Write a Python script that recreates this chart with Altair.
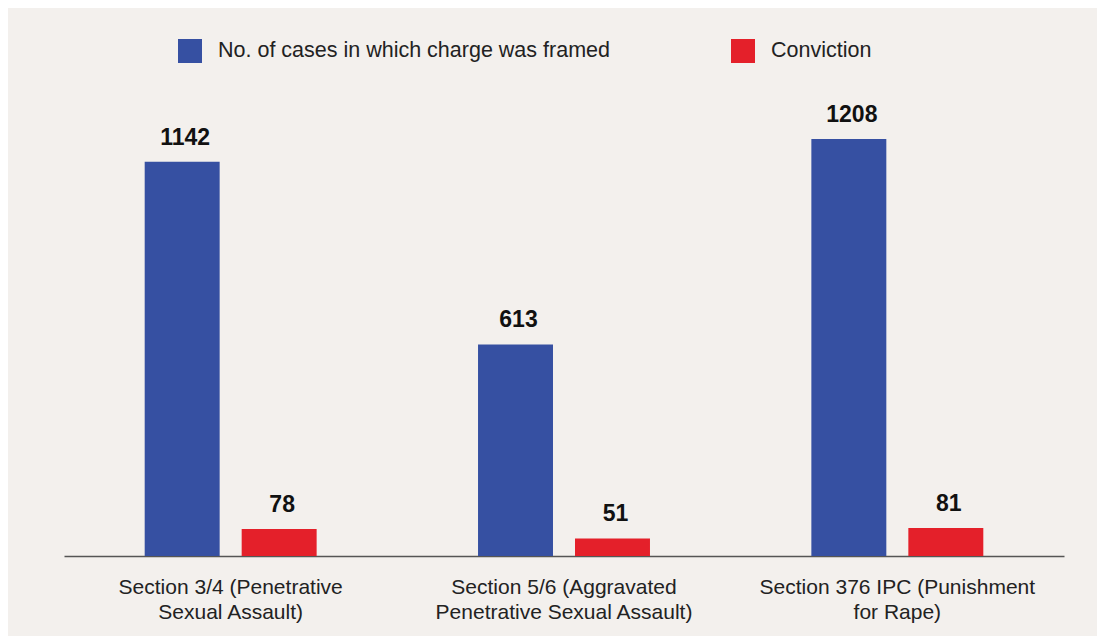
import altair as alt
import pandas as pd

categories = [
    "Section 3/4 (Penetrative|Sexual Assault)",
    "Section 5/6 (Aggravated|Penetrative Sexual Assault)",
    "Section 376 IPC (Punishment|for Rape)",
]
series = ["No. of cases in which charge was framed", "Conviction"]
framed = [1142, 613, 1208]
conviction = [78, 51, 81]
colors = ["#3650a2", "#e4202a"]

rows = []
for c, f, v in zip(categories, framed, conviction):
    rows.append({"section": c, "series": series[0], "value": f})
    rows.append({"section": c, "series": series[1], "value": v})
df = pd.DataFrame(rows)

FONT = "Liberation Sans"

x = alt.X(
    "section:N",
    sort=categories,
    scale=alt.Scale(paddingInner=0, paddingOuter=0),
    axis=alt.Axis(
        title=None,
        labelExpr="split(datum.label, '|')",
        labelAngle=0,
        labelLimit=0,
        ticks=False,
        domainColor="#555555",
        domainWidth=1.5,
        labelFontSize=21,
        labelColor="#222222",
        labelPadding=20,
        labelLineHeight=25,
        labelFont=FONT,
        labelBaseline="top",
    ),
)
xoff = alt.XOffset(
    "series:N",
    sort=series,
    scale=alt.Scale(paddingInner=0.227, paddingOuter=0.832),
)
y = alt.Y("value:Q", scale=alt.Scale(domain=[0, 1350]), axis=None)

bars = alt.Chart(df).mark_bar().encode(
    x=x,
    xOffset=xoff,
    y=y,
    color=alt.Color(
        "series:N",
        sort=series,
        scale=alt.Scale(domain=series, range=colors),
        legend=alt.Legend(
            title=None,
            orient="none",
            legendX=114,
            legendY=-51,
            direction="horizontal",
            symbolType="square",
            symbolSize=576,
            symbolStrokeWidth=0,
            symbolOpacity=1,
            labelFontSize=21.5,
            labelFont=FONT,
            labelColor="#222222",
            labelOffset=16,
            labelLimit=0,
            columnPadding=121,
            padding=0,
        ),
    ),
)

labels = alt.Chart(df).mark_text(
    fontSize=23, fontWeight="bold", font=FONT, color="#111111", dy=-17, dx=3, baseline="alphabetic"
).encode(
    x=x,
    xOffset=xoff,
    y=y,
    text=alt.Text("value:Q"),
)

chart = (
    alt.layer(bars, labels)
    .properties(
        width=1000,
        height=466,
        autosize=alt.AutoSizeParams(type="none"),
        padding={"left": 56, "top": 82, "right": 33, "bottom": 80},
        background="#f3f0ed",
    )
    .configure_view(stroke=None)
)

chart.save("out.html", embed_options={"renderer": "svg", "actions": False})
